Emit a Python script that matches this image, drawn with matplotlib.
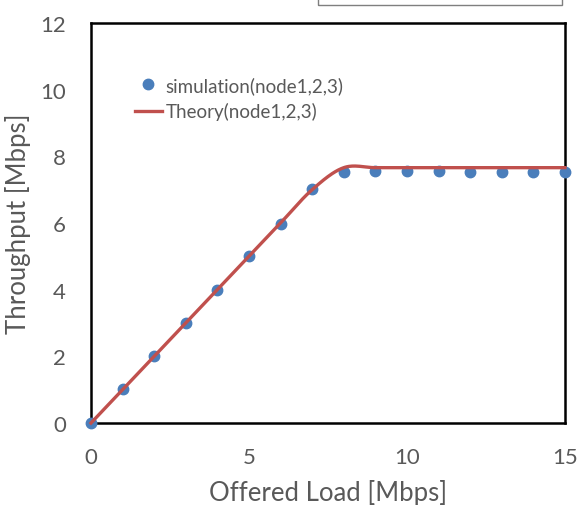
import numpy as np
import matplotlib.pyplot as plt
from matplotlib.patches import Rectangle

plt.rcParams['font.family'] = ['Lato', 'DejaVu Sans']

# offered load [Mbps]
load = [0, 1, 2, 3, 4, 5, 6, 7, 8, 9, 10, 11, 12, 13, 14, 15]
# simulated throughput [Mbps]
sim = [0, 1.01, 2.0, 3.0, 4.0, 5.01, 5.98, 7.02, 7.54, 7.55, 7.55, 7.55, 7.53, 7.53, 7.53, 7.54]
# theoretical throughput [Mbps]
theory = [0, 1, 2, 3, 4, 5, 6, 7, 7.66, 7.66, 7.66, 7.66, 7.66, 7.66, 7.66, 7.66]


def smooth(xs, ys, n=30):
    """Catmull-Rom smoothing like a spreadsheet's smoothed line."""
    xs = np.asarray(xs, float)
    ys = np.asarray(ys, float)
    px = np.concatenate([[2 * xs[0] - xs[1]], xs, [2 * xs[-1] - xs[-2]]])
    py = np.concatenate([[2 * ys[0] - ys[1]], ys, [2 * ys[-1] - ys[-2]]])
    ox, oy = [], []
    t = np.linspace(0, 1, n, endpoint=False)
    for i in range(1, len(px) - 2):
        for arr, out in ((px, ox), (py, oy)):
            p0, p1, p2, p3 = arr[i - 1:i + 3]
            out.extend(0.5 * (2 * p1 + (-p0 + p2) * t
                              + (2 * p0 - 5 * p1 + 4 * p2 - p3) * t ** 2
                              + (-p0 + 3 * p1 - 3 * p2 + p3) * t ** 3))
    ox.append(xs[-1])
    oy.append(ys[-1])
    return np.array(ox), np.array(oy)


fig = plt.figure(figsize=(5.78, 5.06), dpi=100)
ax = fig.add_axes([0.1574, 0.162, 0.82, 0.7906])

grey = '#595959'
ax.plot(load, sim, 'o', color='#4a7ebb', markersize=7.5, clip_on=False, zorder=3,
        label='simulation(node1,2,3)')
tx, ty = smooth(load, theory)
ax.plot(tx, ty, '-', color='#c0504d', linewidth=2.4, clip_on=False, zorder=4,
        label='Theory(node1,2,3)')

ax.set_xlim(0, 15)
ax.set_ylim(0, 12)
ax.set_xticks([0, 5, 10, 15])
ax.set_yticks(range(0, 13, 2))
ax.tick_params(axis='x', length=0, pad=17, labelsize=16, labelcolor=grey)
ax.tick_params(axis='y', length=0, pad=18, labelsize=16, labelcolor=grey)
for s in ax.spines.values():
    s.set_linewidth(1.8)
    s.set_color('black')

ax.set_xlabel('Offered Load [Mbps]', fontsize=18.5, color=grey, labelpad=9)
ax.set_ylabel('Throughput [Mbps]', fontsize=18.5, color=grey, labelpad=7)

leg = ax.legend(loc='upper left', bbox_to_anchor=(0.057, 0.91), frameon=False,
                fontsize=13.5, handlelength=1.45, handletextpad=0.2, labelspacing=0.45)
for t in leg.get_texts():
    t.set_color(grey)

# edge of a neighbouring box at the top
fig.patches.append(Rectangle((318 / 578, 1 - 6 / 506), 244 / 578, 0.05,
                             transform=fig.transFigure, fill=False,
                             edgecolor='#7f7f7f', linewidth=1.0))

fig.savefig('out.png', dpi=100)
